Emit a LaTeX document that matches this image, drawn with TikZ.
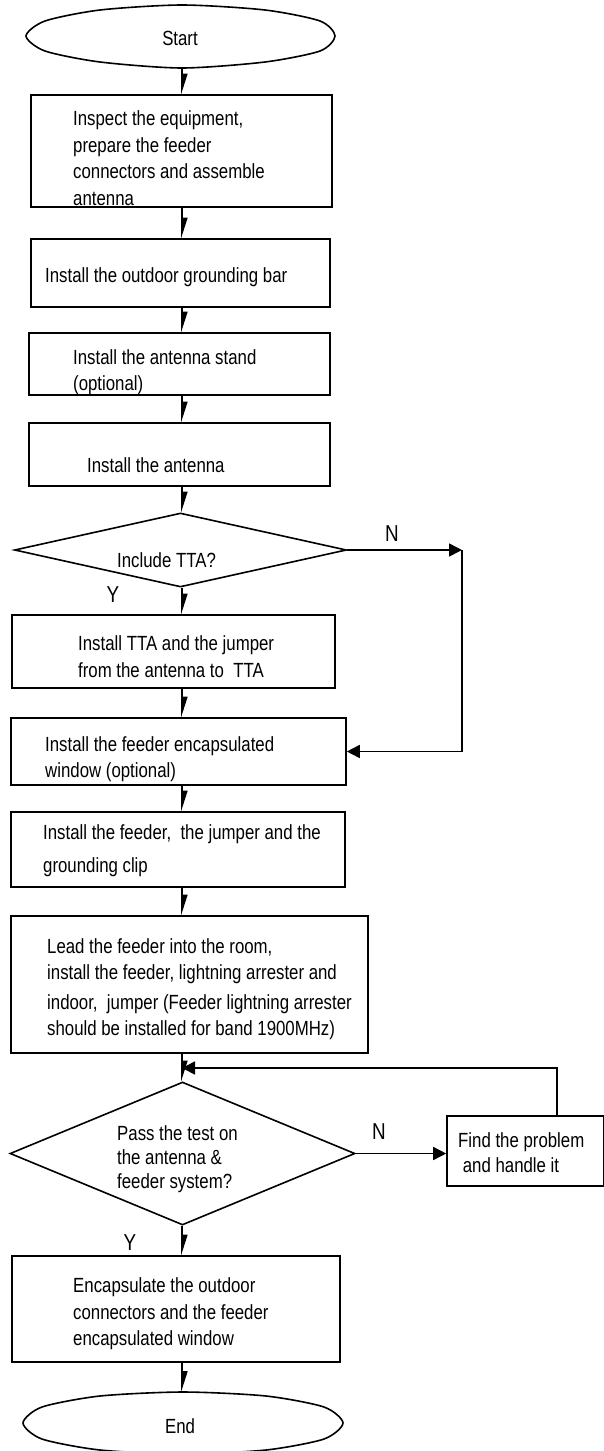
\documentclass[tikz,border=0pt]{standalone}
\usepackage{fontspec}
\setmainfont{Liberation Sans}[FakeStretch=0.82]
\usetikzlibrary{arrows.meta,shapes.geometric}
\tikzset{
  box/.style={draw, line width=1.6pt, rectangle, inner sep=0pt},
  dia/.style={draw, line width=1.6pt, diamond, inner sep=0pt},
  txt/.style={anchor=west, align=left, inner sep=0pt, font=\fontsize{20.5}{26.5}\selectfont},
  lbl/.style={inner sep=0pt, font=\fontsize{23}{26}\selectfont},
  harp/.style={line width=1.6pt, -{Triangle[harpoon,length=18pt,width=11pt]}},
  tri/.style={line width=1.6pt, -{Triangle[length=13pt,width=13pt]}},
  conn/.style={line width=1.6pt},
}
\begin{document}
\begin{tikzpicture}[x=1pt,y=-1pt]
\useasboundingbox (0,0) rectangle (603,1451);
\coordinate (spine) at (182,0);
% start
\node[inner sep=0pt, minimum width=309pt, minimum height=63pt] (start) at (180.5,36.5) {};
\draw[line width=1.6pt] plot[smooth cycle, tension=0.45] coordinates {(26,36) (45,21) (100,10) (182,5) (265,10) (320,21) (335,36) (320,51) (265,62) (182,68) (100,62) (45,51)};
\node[lbl, font=\fontsize{20.5}{26.5}\selectfont] at (180,38) {Start};
% boxes
\node[box, minimum width=301pt, minimum height=112pt] (b1) at (181.5,151) {};
\node[txt] at (73,158) {Inspect the equipment,\\prepare the feeder\\connectors and assemble\\antenna};
\node[box, minimum width=299pt, minimum height=68pt] (b2) at (180.5,273) {};
\node[txt] at (45,277) {Install the outdoor grounding bar};
\node[box, minimum width=301pt, minimum height=62pt] (b3) at (179.5,364) {};
\node[txt] at (73,372) {Install the antenna stand\\(optional)};
\node[box, minimum width=301pt, minimum height=63pt] (b4) at (179.5,454.5) {};
\node[txt] at (87,465) {Install the antenna};
\node[dia, minimum width=332pt, minimum height=74pt] (d1) at (180.5,550) {};
\node[txt] at (117,560) {Include TTA?};
\node[box, minimum width=323pt, minimum height=73pt] (b5) at (173.5,651.5) {};
\node[txt] at (78,656.5) {Install TTA and the jumper\\from the antenna to\ \ TTA};
\node[box, minimum width=335pt, minimum height=67pt] (b6) at (178.5,751.5) {};
\node[txt] at (45,759) {Install the feeder encapsulated\\window (optional)};
\node[box, minimum width=334pt, minimum height=75pt] (b7) at (178,849.5) {};
\node[txt, font=\fontsize{20.5}{33}\selectfont] at (43,850.5) {Install the feeder,\ \ the jumper and the\\grounding clip};
\node[box, minimum width=357pt, minimum height=137pt] (b8) at (189.5,984.5) {};
\node[txt] at (47,989) {Lead the feeder into the room,\\install the feeder, lightning arrester and\\[3pt]indoor,\ \ jumper (Feeder lightning arrester\\should be installed for band 1900MHz)};
\node[dia, minimum width=345pt, minimum height=143pt] (d2) at (182.5,1153.5) {};
\node[txt, font=\fontsize{20.5}{24}\selectfont] at (117,1159) {Pass the test on\\the antenna \&\\feeder system?};
\node[box, minimum width=157pt, minimum height=70pt] (find) at (525.5,1151) {};
\node[txt, font=\fontsize{20.5}{25}\selectfont] at (458,1152.5) {Find the problem\\\ and handle it};
\node[box, minimum width=328pt, minimum height=106pt] (b9) at (176,1309) {};
\node[txt] at (73,1314) {Encapsulate the outdoor\\connectors and the feeder\\encapsulated window};
% end
\node[inner sep=0pt, minimum width=320pt, minimum height=62pt] (end) at (183,1423) {};
\draw[line width=1.6pt] plot[smooth cycle, tension=0.45] coordinates {(23,1423) (42,1407) (100,1396) (183,1392) (266,1396) (324,1407) (343,1423) (324,1439) (266,1450) (183,1454) (100,1450) (42,1439)};
\node[lbl, font=\fontsize{20.5}{26.5}\selectfont] at (180,1426) {End};
% labels
\node[lbl] at (392,534) {N};
\node[lbl] at (113,595) {Y};
\node[lbl] at (379,1132) {N};
\node[lbl] at (130,1243) {Y};
% connectors
\draw[harp] (start.south -| spine) -- (b1.north -| spine);
\draw[harp] (b1.south -| spine) -- (b2.north -| spine);
\draw[harp] (b2.south -| spine) -- (b3.north -| spine);
\draw[harp] (b3.south -| spine) -- (b4.north -| spine);
\draw[harp] (b4.south -| spine) -- (d1.north -| spine);
\draw[harp] (d1.south -| spine) -- (b5.north -| spine);
\draw[harp] (b5.south -| spine) -- (b6.north -| spine);
\draw[harp] (b6.south -| spine) -- (b7.north -| spine);
\draw[harp] (b7.south -| spine) -- (b8.north -| spine);
\draw[harp] (b8.south -| spine) -- (d2.north -| spine);
\draw[harp] (d2.south -| spine) -- (b9.north -| spine);
\draw[harp] (b9.south -| spine) -- (end.north -| spine);
\coordinate (n1c) at (462,550);
\draw[tri] (d1.east) -- (n1c);
\draw[tri] (n1c) |- (b6.east);
\coordinate (fbx) at (557,0);
\coordinate (fb) at (182,1068);
\draw[tri] (find.north -| fbx) |- (fb);
\draw[tri] (d2.east) -- (d2.east -| find.west);
\end{tikzpicture}
\end{document}
